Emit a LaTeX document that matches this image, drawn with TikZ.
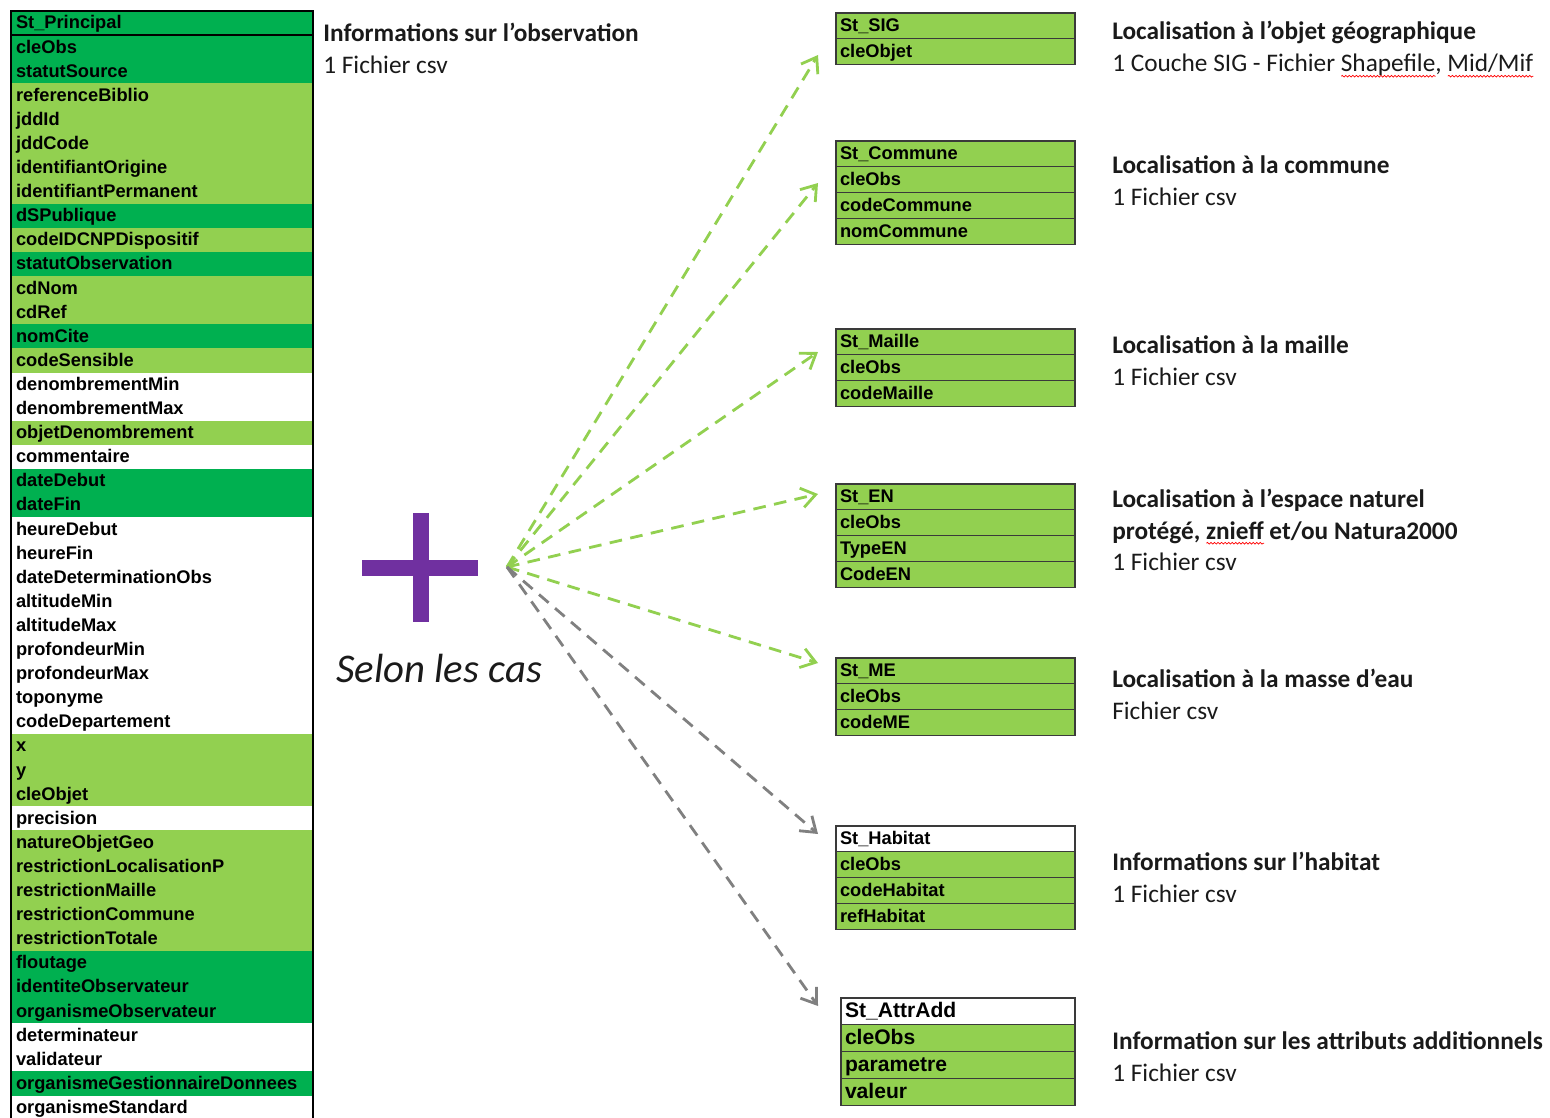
\documentclass[tikz,border=0pt]{standalone}
\usepackage{fontspec}
\setmainfont{Carlito}
\newfontfamily\tabfont{Liberation Sans}
\usetikzlibrary{arrows.meta,positioning,decorations.pathmorphing}
\definecolor{DarkGreen}{HTML}{00B050}
\definecolor{LightGreen}{HTML}{92D050}
\definecolor{PlusPurple}{HTML}{7030A0}
\definecolor{ArrowGray}{HTML}{808080}
\definecolor{CellLine}{HTML}{3A3A3A}
\definecolor{TextBlack}{HTML}{1A1A1A}
\newsavebox\wavebox
\newcommand\spellwave[1]{\sbox\wavebox{#1}\rlap{\tikz[baseline=0pt]\draw[red, line width=0.5pt, decorate, decoration={snake, amplitude=0.6pt, segment length=2.5pt}] (0pt,-3pt) -- (\wd\wavebox,-3pt);}#1}
\newcommand\pu{0.025cm}

\begin{document}
\begin{tikzpicture}[
    x=0.025cm, y=-0.025cm,
    field/.style={anchor=north west, inner xsep=5*\pu, inner ysep=0pt, outer sep=0pt, minimum height=24.1*\pu, text height=10.2pt, text depth=1.8pt, text width=292*\pu, align=left, font=\tabfont\bfseries\fontsize{13}{13}\selectfont},
    frame/.style={draw=black, line width=1.1pt},
    cell/.style={draw=CellLine, line width=0.9pt, fill=LightGreen, anchor=north west, inner xsep=4*\pu, inner ysep=0pt, outer sep=0pt, minimum height=25.8*\pu, text height=10.2pt, text depth=1.8pt, text width=231*\pu, align=left, font=\tabfont\bfseries\fontsize{13}{13}\selectfont},
    bigcell/.style={cell, minimum height=26.8*\pu, text height=11.4pt, text depth=2.4pt, text width=226*\pu, font=\tabfont\bfseries\fontsize{15}{15}\selectfont},
    ttl/.style={anchor=base west, inner sep=0pt, text=TextBlack, font=\fontsize{18}{22}\selectfont\bfseries},
    sub/.style={anchor=base west, inner sep=0pt, text=TextBlack, font=\fontsize{18}{22}\selectfont},
    garr/.style={draw=LightGreen, line width=2pt, dash pattern=on 9pt off 6pt, -{Straight Barb[length=10pt, width=14pt]}},
    darr/.style={garr, draw=ArrowGray}
]
\useasboundingbox (0,0) rectangle (1550,1117);

% table St_Principal
\foreach \f/\c [count=\i from 0] in {St\_Principal/DarkGreen, cleObs/DarkGreen, statutSource/DarkGreen, referenceBiblio/LightGreen, jddId/LightGreen, jddCode/LightGreen, identifiantOrigine/LightGreen, identifiantPermanent/LightGreen, dSPublique/DarkGreen, codeIDCNPDispositif/LightGreen, statutObservation/DarkGreen, cdNom/LightGreen, cdRef/LightGreen, nomCite/DarkGreen, codeSensible/LightGreen, denombrementMin/white, denombrementMax/white, objetDenombrement/LightGreen, commentaire/white, dateDebut/DarkGreen, dateFin/DarkGreen, heureDebut/white, heureFin/white, dateDeterminationObs/white, altitudeMin/white, altitudeMax/white, profondeurMin/white, profondeurMax/white, toponyme/white, codeDepartement/white, x/LightGreen, y/LightGreen, cleObjet/LightGreen, precision/white, natureObjetGeo/LightGreen, restrictionLocalisationP/LightGreen, restrictionMaille/LightGreen, restrictionCommune/LightGreen, restrictionTotale/LightGreen, floutage/DarkGreen, identiteObservateur/DarkGreen, organismeObservateur/DarkGreen, determinateur/white, validateur/white, organismeGestionnaireDonnees/DarkGreen, organismeStandard/white}
  {\node[field, fill=\c] (p\i) at (11,{11+24.1*\i}) {\f};}
\draw[frame] (p0.north west) rectangle (p45.south east);
\draw[frame] (p0.south west) -- (p0.south east);

\node[ttl] (obsT) at (323,42) {Informations sur l’observation};
\node[sub] (obsD) at (323,74) {1 Fichier csv};

% plus
\fill[PlusPurple] (413,513) rectangle (429,622);
\fill[PlusPurple] (362,560) rectangle (478,576);
\node[font=\itshape\fontsize{29}{29}\selectfont, text=TextBlack] (cas) at (439,668) {Selon les cas};

% tables de localisation
\node[cell] (sig0) at (836,13) {St\_SIG};
\node[cell, below=0pt of sig0] (sig1) {cleObjet};

\node[cell] (com0) at (836,141) {St\_Commune};
\node[cell, below=0pt of com0] (com1) {cleObs};
\node[cell, below=0pt of com1] (com2) {codeCommune};
\node[cell, below=0pt of com2] (com3) {nomCommune};

\node[cell] (mai0) at (836,329) {St\_Maille};
\node[cell, below=0pt of mai0] (mai1) {cleObs};
\node[cell, below=0pt of mai1] (mai2) {codeMaille};

\node[cell] (en0) at (836,484) {St\_EN};
\node[cell, below=0pt of en0] (en1) {cleObs};
\node[cell, below=0pt of en1] (en2) {TypeEN};
\node[cell, below=0pt of en2] (en3) {CodeEN};

\node[cell] (me0) at (836,658) {St\_ME};
\node[cell, below=0pt of me0] (me1) {cleObs};
\node[cell, below=0pt of me1] (me2) {codeME};

\node[cell, fill=white] (hab0) at (836,826) {St\_Habitat};
\node[cell, below=0pt of hab0] (hab1) {cleObs};
\node[cell, below=0pt of hab1] (hab2) {codeHabitat};
\node[cell, below=0pt of hab2] (hab3) {refHabitat};

\node[bigcell, fill=white] (att0) at (841,998) {St\_AttrAdd};
\node[bigcell, below=0pt of att0] (att1) {cleObs};
\node[bigcell, below=0pt of att1] (att2) {parametre};
\node[bigcell, below=0pt of att2] (att3) {valeur};

% textes
\node[ttl] (sigT) at (1112,40) {Localisation à l’objet géographique};
\node[sub] (sigD) at (1112,72) {1 Couche SIG - Fichier \spellwave{Shapefile}, \spellwave{Mid/Mif}};
\node[ttl] (comT) at (1112,173) {Localisation à la commune};
\node[sub] (comD) at (1112,205) {1 Fichier csv};
\node[ttl] (maiT) at (1112,353) {Localisation à la maille};
\node[sub] (maiD) at (1112,385) {1 Fichier csv};
\node[ttl] (enT) at (1112,507) {Localisation à l’espace naturel};
\node[ttl] (enT2) at (1112,539) {protégé, \spellwave{znieff} et/ou Natura2000};
\node[sub] (enD) at (1112,570) {1 Fichier csv};
\node[ttl] (meT) at (1112,687) {Localisation à la masse d’eau};
\node[sub] (meD) at (1112,719) {Fichier csv};
\node[ttl] (habT) at (1112,870) {Informations sur l’habitat};
\node[sub] (habD) at (1112,902) {1 Fichier csv};
\node[ttl] (attT) at (1112,1049) {Information sur les attributs additionnels};
\node[sub] (attD) at (1112,1081) {1 Fichier csv};

% fleches
\coordinate (src) at (507,567);
\coordinate (aSIG) at (818,55);
\coordinate (aCOM) at (818,183);
\coordinate (aMAI) at (818,352);
\coordinate (aEN) at (818,494);
\coordinate (aME) at (818,663);
\coordinate (aHAB) at (818,834);
\coordinate (aATT) at (818,1006);
\foreach \b in {aSIG,aCOM,aMAI,aEN,aME}{\draw[garr] (src) -- (\b);}
\foreach \b in {aHAB,aATT}{\draw[darr] (src) -- (\b);}
\end{tikzpicture}
\end{document}
